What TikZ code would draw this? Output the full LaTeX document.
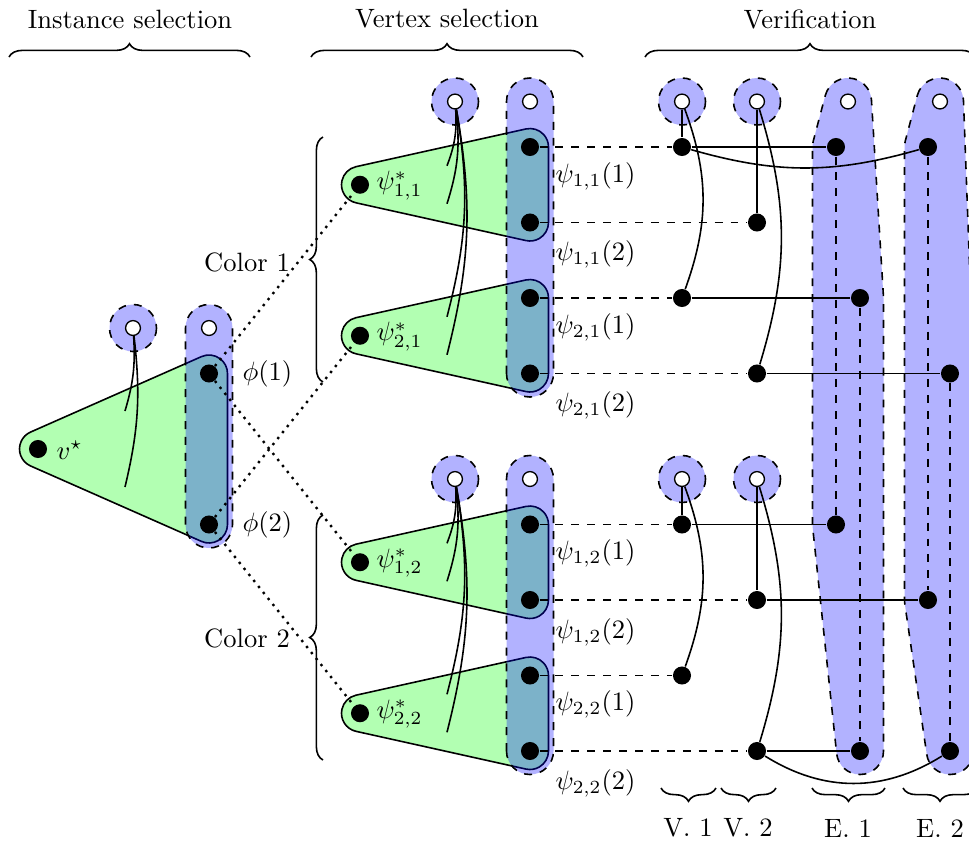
\documentclass[tikz,border=0pt]{standalone}
\usetikzlibrary{decorations.pathreplacing}
\pgfdeclarelayer{shapes}
\pgfdeclarelayer{lines}
\pgfsetlayers{shapes,lines,main}

\tikzset{
  bdot/.style={circle,fill=black,inner sep=0pt,minimum size=6.8pt},
  wdot/.style={circle,fill=white,draw=black,line width=0.5pt,inner sep=0pt,minimum size=5.6pt},
  gadget/.style={draw=black,fill=green!30,line width=0.6pt},
  bag/.style={draw=black,dashed,fill=blue,fill opacity=0.3,line width=0.6pt},
  wire/.style={line width=0.6pt},
  pickline/.style={line width=0.6pt,dashed},
  mapline/.style={line width=0.9pt,dotted},
  grp/.style={decorate,decoration={brace,amplitude=5pt},line width=0.6pt},
  lbl/.style={inner sep=0pt,anchor=west},
}

% rounded triangle: [style] apex x, apex y, right x, upper y, lower y, radius
\newcommand\trihull[7][]{%
  \pgfmathsetmacro\thA{atan2(-((#4)-(#2)),(#5)-(#3))}%
  \pgfmathsetmacro\thB{atan2((#4)-(#2),(#3)-(#6))}%
  \pgfmathsetmacro\thC{\thA+360}%
  \path[#1] ({(#2)+(#7)*cos(\thA)},{(#3)+(#7)*sin(\thA)})
    -- ({(#4)+(#7)*cos(\thA)},{(#5)+(#7)*sin(\thA)})
    arc[start angle=\thA,end angle=0,radius=#7]
    -- ({(#4)+(#7)},{#6})
    arc[start angle=0,end angle=\thB,radius=#7]
    -- ({(#2)+(#7)*cos(\thB)},{(#3)+(#7)*sin(\thB)})
    arc[start angle=\thB,end angle=\thC,radius=#7] -- cycle;}

% vertical capsule: [style] x, top y, bottom y, radius
\newcommand\capsule[5][]{%
  \path[#1] ({(#2)-(#5)},{#4}) -- ({(#2)-(#5)},{#3})
    arc[start angle=180,end angle=360,radius=#5]
    -- ({(#2)+(#5)},{#4})
    arc[start angle=0,end angle=180,radius=#5] -- cycle;}

\begin{document}
\begin{tikzpicture}[x=0.377pt,y=-0.377pt]
\useasboundingbox (0,0) rectangle (969,840);

% ---------- instance selection
\node[bdot] (vs) at (38,449) {};
\node[bdot] (ph1) at (209,373.5) {};
\node[bdot] (ph2) at (209,524.5) {};
\node[wdot] (lw) at (209,328) {};
\node[wdot] (lc) at (133,328) {};
\coordinate (lc1) at (125,411);
\coordinate (lc2) at (125,487);
\node[lbl] at (56,450) {$v^\star$};
\node[lbl] at (242,374) {$\phi(1)$};
\node[lbl] at (242,525) {$\phi(2)$};
\begin{pgfonlayer}{shapes}
  \trihull[gadget]{38}{449}{209}{373.5}{524.5}{18.5}
  \capsule[bag]{209}{328}{524.5}{23.5}
  \path[bag] (133,328) circle[radius=23.5];
\end{pgfonlayer}
\begin{pgfonlayer}{lines}
  \draw[wire] (lc) to[bend left=10] (lc1);
  \draw[wire] (lc) to[bend left=10] (lc2);
\end{pgfonlayer}

% ---------- vertex selection, one block per colour
\foreach \o/\j in {0/1,377.5/2}{
  \node[wdot] (mw\j) at (530,101.5+\o) {};
  \node[wdot] (mc\j) at (455,101.5+\o) {};
  \node[bdot] (s1\j) at (360,184.75+\o) {};
  \node[bdot] (s2\j) at (360,335.75+\o) {};
  \node[bdot] (p11\j) at (530,147+\o) {};
  \node[bdot] (p12\j) at (530,222.5+\o) {};
  \node[bdot] (p21\j) at (530,298+\o) {};
  \node[bdot] (p22\j) at (530,373.5+\o) {};
  \coordinate (m1\j) at (447,165.75+\o);
  \coordinate (m2\j) at (447,203.75+\o);
  \coordinate (m3\j) at (447,316.75+\o);
  \coordinate (m4\j) at (447,354.75+\o);
  \node[lbl] at (376,185.75+\o) {$\psi^*_{1,\j}$};
  \node[lbl] at (376,336.75+\o) {$\psi^*_{2,\j}$};
  \node[lbl] at (555,176+\o) {$\psi_{1,\j}(1)$};
  \node[lbl] at (555,254.5+\o) {$\psi_{1,\j}(2)$};
  \node[lbl] at (555,327+\o) {$\psi_{2,\j}(1)$};
  \node[lbl] at (555,405.5+\o) {$\psi_{2,\j}(2)$};
  \begin{pgfonlayer}{shapes}
    \trihull[gadget]{360}{184.75+\o}{530}{147+\o}{222.5+\o}{18.5}
    \trihull[gadget]{360}{335.75+\o}{530}{298+\o}{373.5+\o}{18.5}
    \capsule[bag]{530}{101.5+\o}{373.5+\o}{23.5}
    \path[bag] (455,101.5+\o) circle[radius=23.5];
    \path[bag] (682,101.5+\o) circle[radius=23.5];
    \path[bag] (757,101.5+\o) circle[radius=23.5];
  \end{pgfonlayer}
  \begin{pgfonlayer}{lines}
    \draw[wire] (mc\j) to[bend left=12] (m1\j);
    \draw[wire] (mc\j) to[bend left=12] (m2\j);
    \draw[wire] (mc\j) to[bend left=12] (m3\j);
    \draw[wire] (mc\j) to[bend left=12] (m4\j);
  \end{pgfonlayer}
  \node[wdot] (va\j) at (682,101.5+\o) {};
  \node[wdot] (vb\j) at (757,101.5+\o) {};
}

% ---------- verification
\node[bdot] (a1) at (682,147) {};
\node[bdot] (b1) at (757,222.5) {};
\node[bdot] (a2) at (682,298) {};
\node[bdot] (b2) at (757,373.5) {};
\node[bdot] (a3) at (682,524.5) {};
\node[bdot] (b3) at (757,600) {};
\node[bdot] (a4) at (682,675.5) {};
\node[bdot] (b4) at (757,751) {};
\node[wdot] (ew1) at (848,101.5) {};
\node[wdot] (ew2) at (940,101.5) {};
\node[bdot] (e11) at (836,147) {};
\node[bdot] (e12) at (860,298) {};
\node[bdot] (e13) at (836,524.5) {};
\node[bdot] (e14) at (860,751) {};
\node[bdot] (e21) at (928,147) {};
\node[bdot] (e22) at (950,373.5) {};
\node[bdot] (e23) at (928,600) {};
\node[bdot] (e24) at (950,751) {};

\begin{pgfonlayer}{shapes}
  \path[bag] (825.28,95.51) arc[start angle=194.78,end angle=356.51,radius=23.5]
    -- (883.46,296.57) arc[start angle=-3.49,end angle=0,radius=23.5]
    -- (883.5,751) arc[start angle=0,end angle=173.95,radius=23.5]
    -- (812.63,526.98) arc[start angle=173.95,end angle=180,radius=23.5]
    -- (812.5,147) arc[start angle=180,end angle=194.78,radius=23.5] -- cycle;
  \path[bag] (917.28,95.51) arc[start angle=194.78,end angle=357.9,radius=23.5]
    -- (973.48,372.64) arc[start angle=-2.1,end angle=0,radius=23.5]
    -- (973.5,751) arc[start angle=0,end angle=171.71,radius=23.5]
    -- (904.75,603.39) arc[start angle=171.71,end angle=180,radius=23.5]
    -- (904.5,147) arc[start angle=180,end angle=194.78,radius=23.5] -- cycle;
\end{pgfonlayer}

\begin{pgfonlayer}{lines}
  % choices of the instance gadget
  \draw[mapline] (ph1) -- (s11);
  \draw[mapline] (ph1) -- (s12);
  \draw[mapline] (ph2) -- (s21);
  \draw[mapline] (ph2) -- (s22);
  % images of the vertex gadgets
  \draw[pickline] (p111) -- (a1);
  \draw[pickline] (p121) -- (b1);
  \draw[pickline] (p211) -- (a2);
  \draw[pickline] (p221) -- (b2);
  \draw[pickline] (p112) -- (a3);
  \draw[pickline] (p122) -- (b3);
  \draw[pickline] (p212) -- (a4);
  \draw[pickline] (p222) -- (b4);
  % vertex checks
  \draw[wire] (va1) -- (a1);
  \draw[wire] (va1) to[bend left=20] (a2);
  \draw[wire] (vb1) -- (b1);
  \draw[wire] (vb1) to[bend left=17] (b2);
  \draw[wire] (va2) -- (a3);
  \draw[wire] (va2) to[bend left=20] (a4);
  \draw[wire] (vb2) -- (b3);
  \draw[wire] (vb2) to[bend left=17] (b4);
  % edge checks
  \draw[wire] (a1) -- (e11);
  \draw[wire] (a1) to[bend right=16] (e21);
  \draw[wire] (a2) -- (e12);
  \draw[wire] (b2) -- (e22);
  \draw[wire] (a3) -- (e13);
  \draw[wire] (b3) -- (e23);
  \draw[wire] (b4) -- (e14);
  \draw[wire] (b4) to[bend right=32] (e24);
  \draw[pickline] (e11) -- (e13);
  \draw[pickline] (e12) -- (e14);
  \draw[pickline] (e21) -- (e23);
  \draw[pickline] (e22) -- (e24);
\end{pgfonlayer}

% ---------- braces and headings
\draw[grp] (9,57) -- (250,57);
\node at (130,19) {Instance selection};
\draw[grp] (311,57) -- (583,57);
\node at (447,19) {Vertex selection};
\draw[grp] (645,57) -- (975,57);
\node at (810,19) {Verification};
\draw[grp] (323,382) -- (323,137);
\node at (247,262) {Color 1};
\draw[grp] (323,760) -- (323,515);
\node at (247,638) {Color 2};
\draw[grp] (716,788) -- (661,788);
\node at (688,828) {V.\ 1};
\draw[grp] (776,788) -- (721,788);
\node at (748,828) {V.\ 2};
\draw[grp] (885,788) -- (812,788);
\node at (848,828) {E.\ 1};
\draw[grp] (977,788) -- (903,788);
\node at (940,828) {E.\ 2};
\end{tikzpicture}
\end{document}
